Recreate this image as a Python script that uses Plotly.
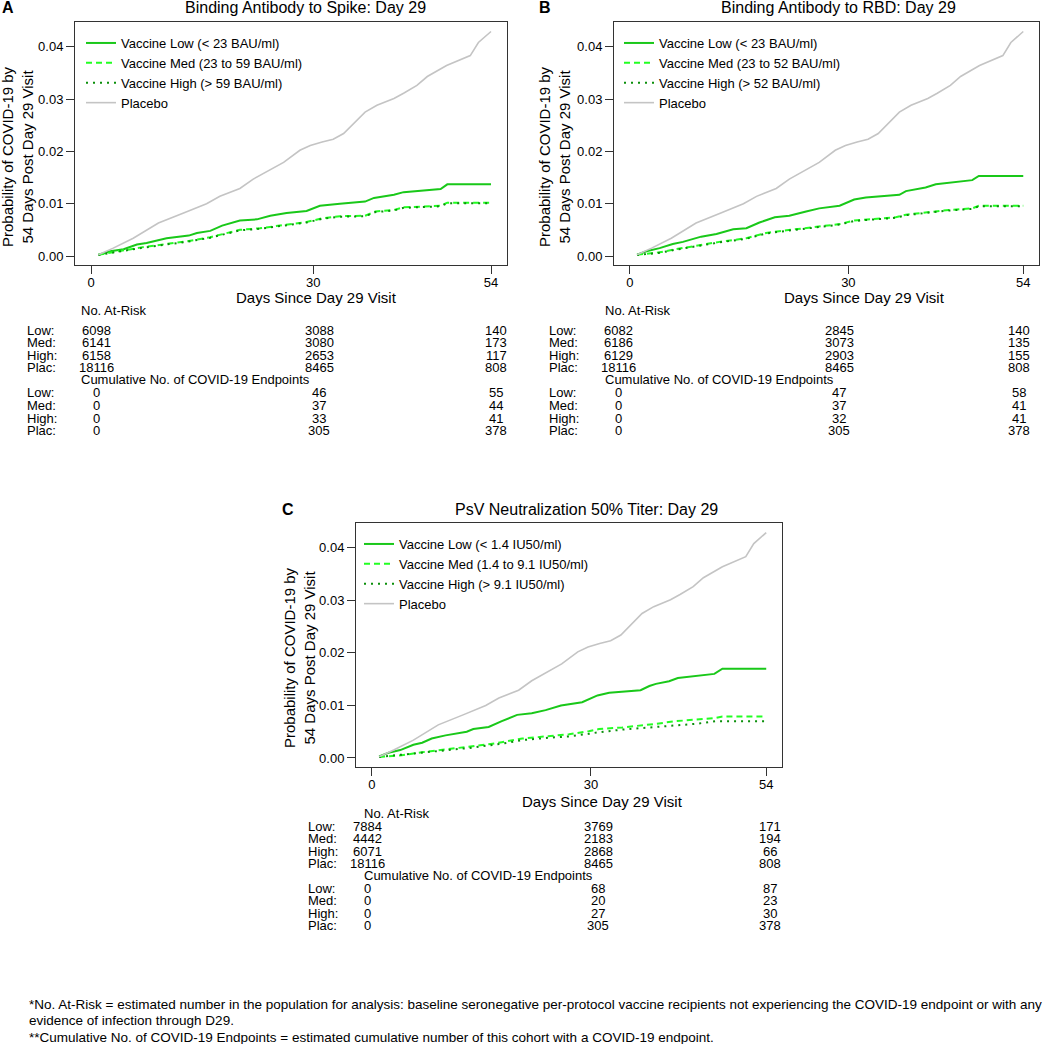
import plotly.graph_objects as go

W, H = 1050, 1044
FONT = "Liberation Sans, Arial, sans-serif"

# ---------------- data ----------------
placebo_days = [1, 3, 5.7, 9.1, 12.5, 15.6, 17.4, 19.2, 20.1, 21.9, 23.7, 26.0, 28.2, 29.6, 31.2,
                32.7, 34.1, 35.7, 37, 38.6, 40.9, 42.2, 44, 45.4, 48, 51.2, 52.3, 54]
placebo_prob = [0.00025, 0.0015, 0.0034, 0.0063, 0.0082, 0.0100, 0.0114, 0.0123, 0.0129, 0.0147,
                0.0161, 0.0179, 0.0202, 0.0211, 0.0218, 0.0223, 0.0234, 0.0256, 0.0275, 0.0288,
                0.0301, 0.0311, 0.0326, 0.0343, 0.0364, 0.0383, 0.0408, 0.0429]

# Panel A: Binding Antibody to Spike
a_low_days = [1, 2.6, 4.4, 6.2, 7.5, 10.2, 13.2, 14.3, 16.1, 17.7, 20.1, 22.4, 24.2, 26.4, 29.1,
              30.9, 33.6, 37, 38.2, 40.9, 42.2, 44.5, 47.2, 48.1, 54]
a_low_prob = [0.00025, 0.0009, 0.0013, 0.0022, 0.0025, 0.0034, 0.0039, 0.0044, 0.0048, 0.0058,
              0.0068, 0.0070, 0.0077, 0.0082, 0.0086, 0.0096, 0.0100, 0.0104, 0.0111, 0.0117,
              0.0122, 0.0125, 0.0128, 0.0137, 0.0137]
a_med_days = [1, 4.4, 6.6, 10.2, 12.9, 16.1, 20.1, 22.8, 26.4, 29.1, 31.2, 33.6, 37, 38.4, 40.9,
              42.2, 47.2, 48.1, 54]
a_med_prob = [0.00025, 0.0011, 0.0016, 0.0023, 0.0028, 0.0036, 0.0050, 0.0053, 0.0060, 0.0065,
              0.0072, 0.0076, 0.0077, 0.0085, 0.0088, 0.0093, 0.0096, 0.0102, 0.0102]
a_high_days = [1, 4.4, 6.6, 10.2, 12.9, 16.1, 20.1, 22.8, 26.4, 29.1, 31.2, 33.6, 37, 38.4, 40.9,
               42.2, 47.2, 48.1, 54]
a_high_prob = [0.00020, 0.0010, 0.0015, 0.0022, 0.0027, 0.0035, 0.0049, 0.0052, 0.0059, 0.0064,
               0.0071, 0.0075, 0.0076, 0.0084, 0.0087, 0.0092, 0.0095, 0.0101, 0.0101]

# Panel B: Binding Antibody to RBD
b_low_days = [1, 2.3, 4.1, 5.9, 7.3, 9.8, 11.9, 13, 14.2, 16, 17.8, 19.9, 21.9, 24.2, 26, 28.8,
              30.8, 32.4, 37, 37.9, 39.3, 40.6, 42, 47, 47.9, 54]
b_low_prob = [0.00025, 0.0009, 0.0015, 0.0023, 0.0027, 0.0037, 0.0042, 0.0046, 0.0051, 0.0053,
              0.0064, 0.0074, 0.0077, 0.0085, 0.0091, 0.0096, 0.0108, 0.0112, 0.0117, 0.0124,
              0.0128, 0.0131, 0.0137, 0.0145, 0.0153, 0.0153]
b_med_days = [1, 4.1, 5.9, 9.1, 12.3, 16, 18.7, 21.5, 25.1, 28.8, 30.8, 33.3, 36.5, 37.9, 41.1,
              43.8, 47, 47.9, 54]
b_med_prob = [0.00025, 0.0007, 0.0012, 0.0020, 0.0027, 0.0034, 0.0044, 0.0049, 0.0055, 0.0061,
              0.0068, 0.0071, 0.0074, 0.0079, 0.0084, 0.0088, 0.0091, 0.0096, 0.0096]
b_high_days = [1, 4.1, 5.9, 9.1, 12.3, 16, 18.7, 21.5, 25.1, 28.8, 30.8, 33.3, 36.5, 37.9, 41.1,
               43.8, 47, 47.9, 54]
b_high_prob = [0.00020, 0.0006, 0.0011, 0.0019, 0.0026, 0.0033, 0.0043, 0.0048, 0.0054, 0.0060,
               0.0067, 0.0070, 0.0073, 0.0078, 0.0083, 0.0087, 0.0090, 0.0095, 0.0095]

# Panel C: PsV Neutralization 50% Titer
c_low_days = [1, 2.3, 3.9, 5.7, 6.9, 8.2, 10.1, 11.9, 13, 13.9, 16, 17.8, 19.9, 21.9, 23.8, 25.9,
              28.8, 30.9, 32.5, 36.8, 38, 38.9, 40.7, 41.9, 43.5, 46.9, 48, 54]
c_low_prob = [0.0003, 0.0010, 0.0015, 0.0025, 0.0029, 0.0037, 0.0043, 0.0048, 0.0050, 0.0055,
              0.0059, 0.0070, 0.0082, 0.0085, 0.0091, 0.0100, 0.0106, 0.0119, 0.0124, 0.0129,
              0.0137, 0.0141, 0.0146, 0.0152, 0.0155, 0.0160, 0.0170, 0.0170]
c_med_days = [1, 4.1, 6.9, 10.1, 13.3, 16, 17.8, 20.6, 23.8, 27, 29.7, 31.1, 34.3, 37.1, 38.9,
              41.6, 44.4, 47.1, 48, 54]
c_med_prob = [0.0002, 0.0005, 0.0011, 0.0016, 0.0021, 0.0026, 0.0030, 0.0037, 0.0041, 0.0045,
              0.0051, 0.0055, 0.0058, 0.0062, 0.0065, 0.0070, 0.0073, 0.0076, 0.0079, 0.0079]
c_high_days = [1, 6.9, 10.1, 13.3, 17.8, 20.6, 23.8, 27, 29.7, 31.1, 34.3, 37.1, 40.7, 44.4,
               47.1, 54]
c_high_prob = [0.0002, 0.0010, 0.0015, 0.0019, 0.0027, 0.0034, 0.0038, 0.0041, 0.0046, 0.0049,
               0.0054, 0.0057, 0.0062, 0.0065, 0.0070, 0.0070]

x_ticks = [0, 30, 54]
y_ticks = [0.00, 0.01, 0.02, 0.03, 0.04]
row_labels = ["Low:", "Med:", "High:", "Plac:"]

a_titles = ["Vaccine Low (&lt; 23 BAU/ml)", "Vaccine Med (23 to 59 BAU/ml)",
            "Vaccine High (&gt; 59 BAU/ml)", "Placebo"]
b_titles = ["Vaccine Low (&lt; 23 BAU/ml)", "Vaccine Med (23 to 52 BAU/ml)",
            "Vaccine High (&gt; 52 BAU/ml)", "Placebo"]
c_titles = ["Vaccine Low (&lt; 1.4 IU50/ml)", "Vaccine Med (1.4 to 9.1 IU50/ml)",
            "Vaccine High (&gt; 9.1 IU50/ml)", "Placebo"]

a_risk = [[6098, 3088, 140], [6141, 3080, 173], [6158, 2653, 117], [18116, 8465, 808]]
a_cum = [[0, 46, 55], [0, 37, 44], [0, 33, 41], [0, 305, 378]]
b_risk = [[6082, 2845, 140], [6186, 3073, 135], [6129, 2903, 155], [18116, 8465, 808]]
b_cum = [[0, 47, 58], [0, 37, 41], [0, 32, 41], [0, 305, 378]]
c_risk = [[7884, 3769, 171], [4442, 2183, 194], [6071, 2868, 66], [18116, 8465, 808]]
c_cum = [[0, 68, 87], [0, 20, 23], [0, 27, 30], [0, 305, 378]]

footnotes = [
    "*No. At-Risk = estimated number in the population for analysis: baseline seronegative per-protocol vaccine recipients not experiencing the COVID-19 endpoint or with any",
    "evidence of infection through D29.",
    "**Cumulative No. of COVID-19 Endpoints = estimated cumulative number of this cohort with a COVID-19 endpoint.",
]

# ---------------- styling ----------------
COL_LOW, COL_MED, COL_HIGH, COL_PLAC = "#19C819", "#22FF22", "#0A8F0A", "#C4C4C4"
AXCOL = "#333333"


def px(x):
    return x / W


def py(y):
    return 1 - y / H


fig = go.Figure()

panels = [
    dict(letter="A", title="Binding Antibody to Spike: Day 29", xa="x", ya="y", leg="legend",
         dom_x=(75, 507), dom_y=(22, 265), names=a_titles,
         series=[(a_low_days, a_low_prob), (a_med_days, a_med_prob), (a_high_days, a_high_prob)],
         risk=a_risk, cum=a_cum, letter_x=8, title_x=305, ytitle_x=17, ytitle_y=157,
         xtitle=(316, 298), hdr1=311, rows1=330, hdr2=380, rows2=393,
         leg_x=81, lab_x=25, hdr_x=79, cols=(96, 319, 496)),
    dict(letter="B", title="Binding Antibody to RBD: Day 29", xa="x2", ya="y2", leg="legend2",
         dom_x=(614, 1039), dom_y=(22, 265), names=b_titles,
         series=[(b_low_days, b_low_prob), (b_med_days, b_med_prob), (b_high_days, b_high_prob)],
         risk=b_risk, cum=b_cum, letter_x=545, title_x=838, ytitle_x=554, ytitle_y=157,
         xtitle=(864, 298), hdr1=311, rows1=330, hdr2=380, rows2=393,
         leg_x=619, lab_x=547, hdr_x=603, cols=(618, 839, 1019)),
    dict(letter="C", title="PsV Neutralization 50% Titer: Day 29", xa="x3", ya="y3", leg="legend3",
         dom_x=(356, 782), dom_y=(523, 767), names=c_titles,
         series=[(c_low_days, c_low_prob), (c_med_days, c_med_prob), (c_high_days, c_high_prob)],
         risk=c_risk, cum=c_cum, letter_x=288, title_x=586, ytitle_x=299, ytitle_y=658,
         xtitle=(602, 801), hdr1=813, rows1=826, hdr2=875, rows2=888,
         leg_x=359, lab_x=306, hdr_x=362, cols=(367, 598, 770)),
]

line_styles = [
    dict(color=COL_LOW, width=2, dash="solid"),
    dict(color=COL_MED, width=2, dash="6px,4px"),
    dict(color=COL_HIGH, width=2, dash="2px,5px"),
]

annotations = []
layout_axes = {}
for i, p in enumerate(panels):
    n = "" if i == 0 else str(i + 1)
    for (days, prob), st, name in zip(p["series"], line_styles, p["names"][:3]):
        fig.add_trace(go.Scatter(x=days, y=prob, mode="lines", name=name, line=st,
                                 xaxis=p["xa"], yaxis=p["ya"], legend=p["leg"]))
    fig.add_trace(go.Scatter(x=placebo_days, y=placebo_prob, mode="lines", name=p["names"][3],
                             line=dict(color=COL_PLAC, width=1.6), xaxis=p["xa"], yaxis=p["ya"],
                             legend=p["leg"]))

    layout_axes["xaxis" + n] = dict(
        domain=[px(p["dom_x"][0]), px(p["dom_x"][1])], anchor=p["ya"],
        range=[-2.16, 56.16], tickvals=x_ticks, ticks="outside", ticklen=8, tickwidth=1,
        tickcolor=AXCOL, showline=True, linecolor=AXCOL, linewidth=1, mirror=True,
        showgrid=False, zeroline=False, ticklabelstandoff=-3,
        tickfont=dict(size=13, color="black", family=FONT))
    layout_axes["yaxis" + n] = dict(
        domain=[py(p["dom_y"][1]), py(p["dom_y"][0])], anchor=p["xa"],
        range=[-0.00172, 0.04472], tickvals=y_ticks, tickformat=".2f", ticks="outside",
        ticklen=8, tickwidth=1, tickcolor=AXCOL, showline=True, linecolor=AXCOL, linewidth=1,
        mirror=True, showgrid=False, zeroline=False,
        tickfont=dict(size=13, color="black", family=FONT))
    layout_axes[p["leg"]] = dict(
        x=px(p["leg_x"]), y=py(p["dom_y"][0] + 6), xanchor="left", yanchor="top",
        bgcolor="rgba(0,0,0,0)", font=dict(size=13, color="black", family=FONT),
        itemwidth=30, tracegroupgap=0)

    top = p["dom_y"][0]
    # panel letter and title
    annotations.append(dict(text="<b>%s</b>" % p["letter"], x=px(p["letter_x"]), y=py(top - 14),
                            xanchor="center", yanchor="middle", font=dict(size=16)))
    annotations.append(dict(text=p["title"], x=px(p["title_x"]), y=py(top - 14),
                            xanchor="center", yanchor="middle", font=dict(size=16)))
    # y title
    annotations.append(dict(text="Probability of COVID-19 by<br>54 Days Post Day 29 Visit",
                            x=px(p["ytitle_x"]), y=py(p["ytitle_y"]), xanchor="center",
                            yanchor="middle", textangle=-90, font=dict(size=15)))
    # x title
    annotations.append(dict(text="Days Since Day 29 Visit", x=px(p["xtitle"][0]),
                            y=py(p["xtitle"][1]), xanchor="center", yanchor="middle",
                            font=dict(size=15)))
    # tables
    annotations.append(dict(text="No. At-Risk", x=px(p["hdr_x"]), y=py(p["hdr1"]),
                            xanchor="left", yanchor="middle", font=dict(size=13)))
    annotations.append(dict(text="Cumulative No. of COVID-19 Endpoints", x=px(p["hdr_x"]),
                            y=py(p["hdr2"]), xanchor="left", yanchor="middle", font=dict(size=13)))
    for block, base in ((p["risk"], p["rows1"]), (p["cum"], p["rows2"])):
        for r, (lab, vals) in enumerate(zip(row_labels, block)):
            yy = base + r * 12.5
            annotations.append(dict(text=lab, x=px(p["lab_x"]), y=py(yy), xanchor="left",
                                    yanchor="middle", font=dict(size=13)))
            for cx, v in zip(p["cols"], vals):
                annotations.append(dict(text=str(v), x=px(cx), y=py(yy), xanchor="center",
                                        yanchor="middle", font=dict(size=13)))

for k, line in enumerate(footnotes):
    annotations.append(dict(text=line, x=px(27), y=py(1004 + k * 16.5), xanchor="left",
                            yanchor="middle", font=dict(size=13.5)))

for a in annotations:
    a.update(xref="paper", yref="paper", showarrow=False)
    a["font"] = dict(family=FONT, color="black", size=a["font"]["size"])

fig.update_layout(
    width=W, height=H, margin=dict(l=0, r=0, t=0, b=0), autosize=False,
    paper_bgcolor="white", plot_bgcolor="white", showlegend=True,
    font=dict(family=FONT, color="black"), annotations=annotations, **layout_axes)

fig.write_html("out.html", config={"displayModeBar": False},
               post_script="document.body.style.margin='0';document.body.style.padding='0';")
